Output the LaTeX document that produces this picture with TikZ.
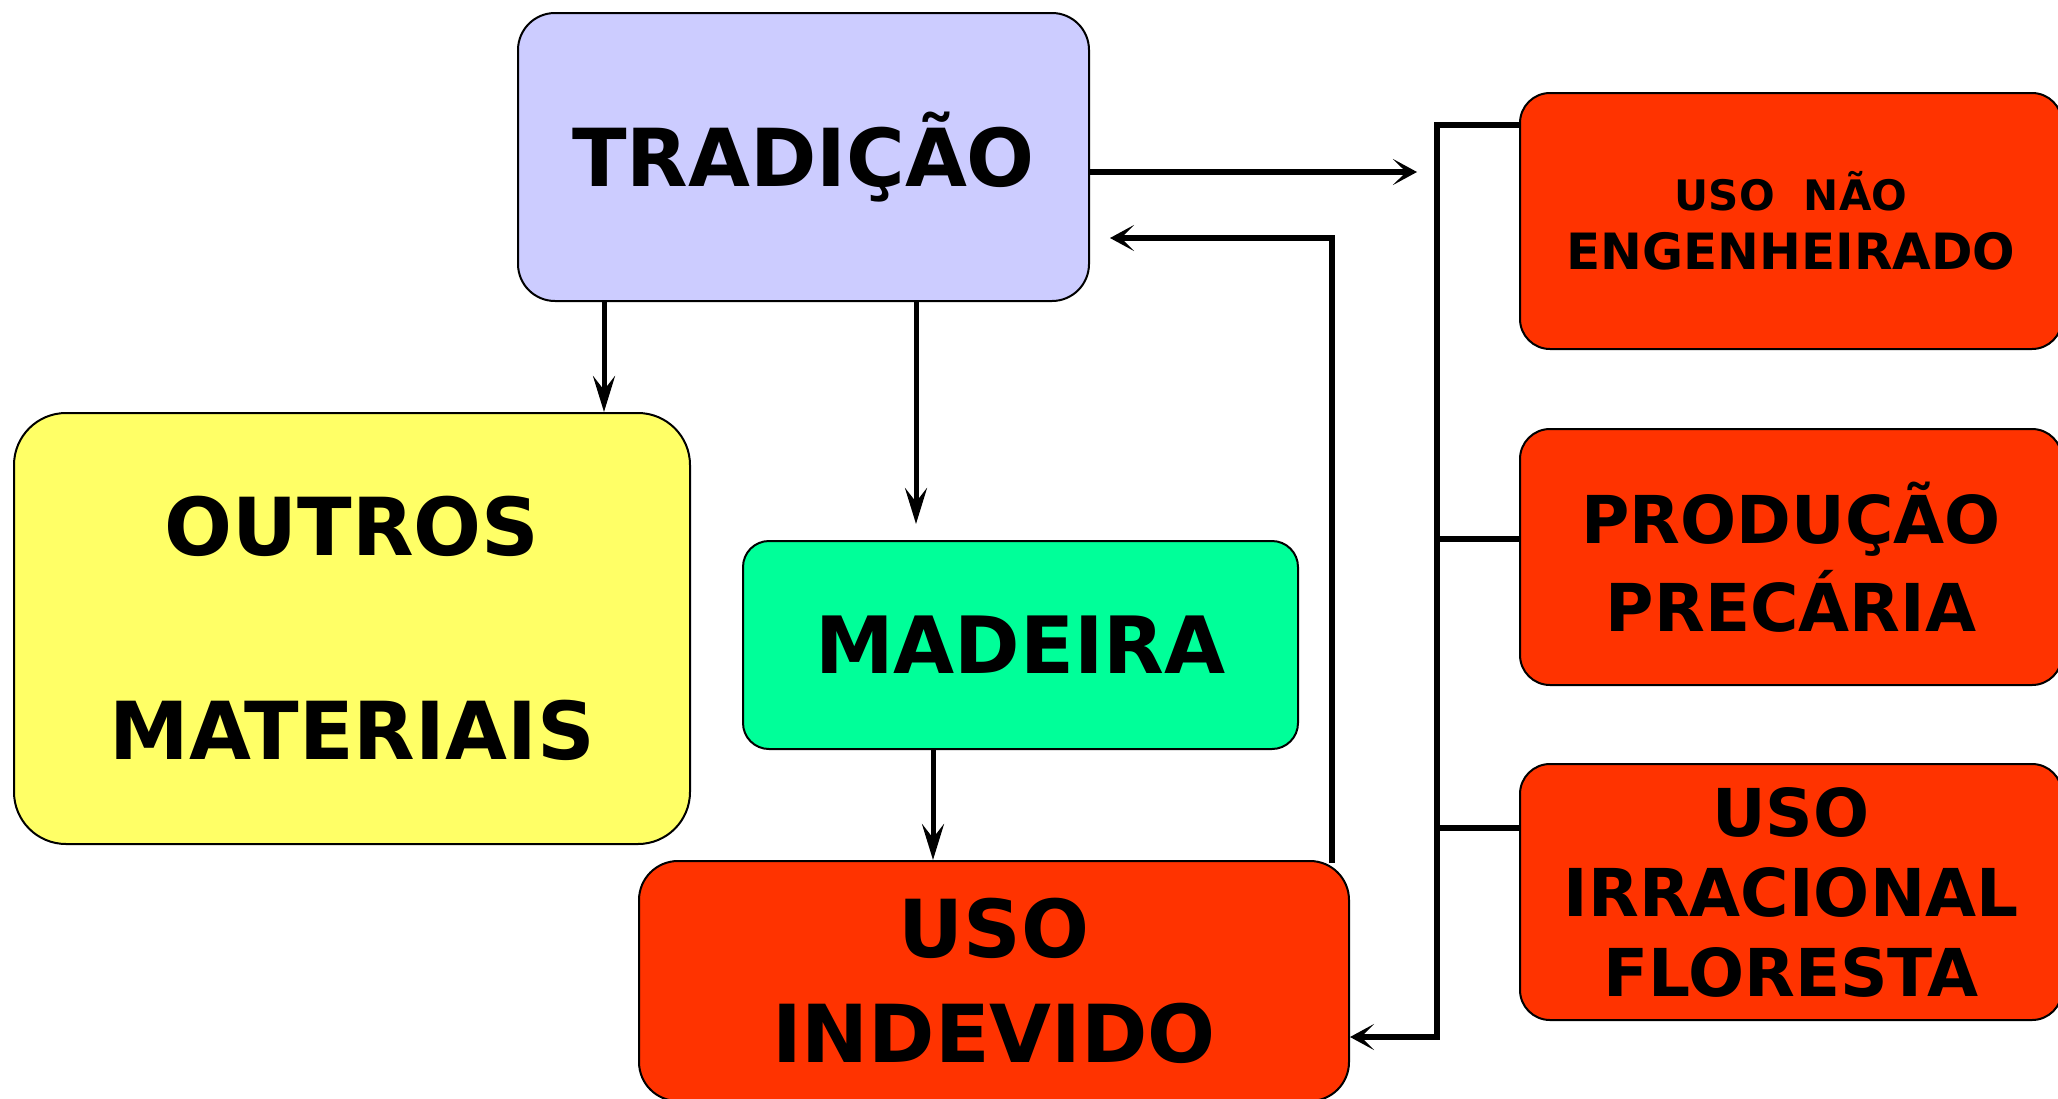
\documentclass[tikz,border=0pt]{standalone}
\usepackage{fontspec}
\setmainfont{DejaVu Sans}
\usetikzlibrary{arrows.meta}
\definecolor{lilac}{HTML}{CCCCFF}
\definecolor{lemon}{HTML}{FFFF66}
\definecolor{mint}{HTML}{00FF99}
\definecolor{redor}{HTML}{FF3300}
\tikzset{
  box/.style={draw=black, line width=2pt, align=center, inner sep=0pt, font=\bfseries},
  conn/.style={draw=black, line width=6.5pt},
  vconn/.style={draw=black, line width=5pt, -{Stealth[length=36pt,width=22pt,inset=14pt]}},
  hconn/.style={draw=black, line width=6.5pt, -{Stealth[length=24pt,width=26pt,inset=13pt]}},
}
\begin{document}
\begin{tikzpicture}[x=1pt,y=-1pt]
\useasboundingbox[fill=white] (0,0) rectangle (2058,1098);
% boxes
\node[box, fill=lilac, rounded corners=37pt, minimum width=571pt, minimum height=288pt,
  font=\bfseries\fontsize{80}{96}\selectfont] (trad) at (803.5,157) {TRADIÇÃO};
\node[box, fill=lemon, rounded corners=52pt, minimum width=676pt, minimum height=431pt,
  font=\bfseries\fontsize{80}{204}\selectfont] (outros) at (352,628.5) {OUTROS\\MATERIAIS};
\node[box, fill=mint, rounded corners=26pt, minimum width=555pt, minimum height=208pt,
  font=\bfseries\fontsize{79}{95}\selectfont] (madeira) at (1020.5,645) {MADEIRA};
\node[box, fill=redor, rounded corners=39pt, minimum width=710pt, minimum height=240pt,
  font=\bfseries\fontsize{80}{105}\selectfont] (indev) at (994,981) {USO\\INDEVIDO};
\node[box, fill=redor, rounded corners=30pt, minimum width=542pt, minimum height=256pt,
  font=\bfseries\fontsize{50}{59}\selectfont] (r1) at (1791,221) {{\fontsize{42}{50}\selectfont USO~~NÃO}\\ENGENHEIRADO};
\node[box, fill=redor, rounded corners=30pt, minimum width=542pt, minimum height=256pt,
  font=\bfseries\fontsize{66}{88}\selectfont] (r2) at (1791,557) {PRODUÇÃO\\PRECÁRIA};
\node[box, fill=redor, rounded corners=30pt, minimum width=542pt, minimum height=256pt,
  font=\bfseries\fontsize{66}{80}\selectfont] (r3) at (1791,892) {USO\\IRRACIONAL\\FLORESTA};
% coordinates
\coordinate (btop) at (1437,125);
\coordinate (bbot) at (1437,1037);
\coordinate (rout) at (1417,172);
\coordinate (ret) at (1332,238);
% vertical arrows
\draw[vconn] (trad.south) ++(-199.5,0) coordinate (a1) -- (a1 |- outros.north);
\draw[vconn, shorten >=16pt] (trad.south) ++(112.5,0) coordinate (a2) -- (a2 |- madeira.north);
\draw[vconn] (madeira.south) ++(-87.5,0) coordinate (a3) -- (a3 |- indev.north);
% right arrow
\draw[hconn] (trad.east |- rout) -- (rout);
% return arrow
\draw[conn, line cap=rect] (indev.north -| ret) -- (ret);
\draw[hconn, shorten >=20pt] (ret) -- (ret -| trad.east);
% bracket
\draw[conn, line cap=rect] (btop) -- (bbot);
\draw[conn] (btop) -- (btop -| r1.west);
\draw[conn] (btop |- r2.west) ++(0,-18) coordinate (b2) -- (b2 -| r2.west);
\draw[conn] (btop |- r3.west) ++(0,-64) coordinate (b3) -- (b3 -| r3.west);
\draw[hconn] (bbot) -- (bbot -| indev.east);
\end{tikzpicture}
\end{document}
